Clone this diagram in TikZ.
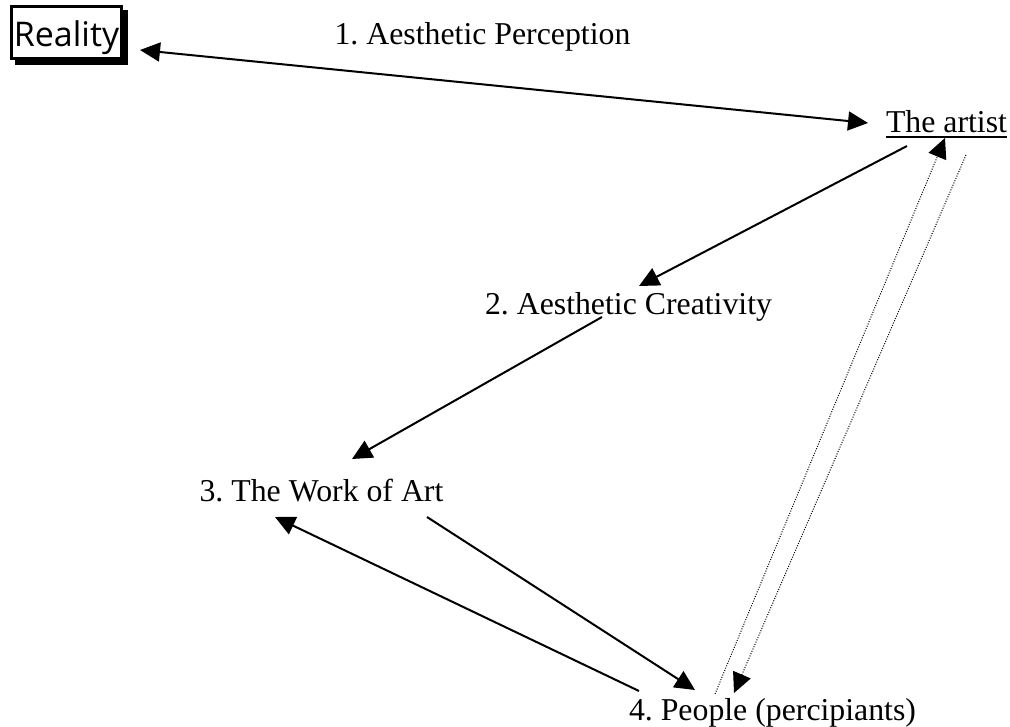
\documentclass[tikz,border=0pt]{standalone}
\usepackage{fontspec}
\setmainfont{Liberation Serif}
\newfontfamily\realityfont{Open Sans}
\usetikzlibrary{arrows.meta,shadows}
\frenchspacing
\begin{document}
\begin{tikzpicture}[x=1pt,y=-1pt,
  lbl/.style={anchor=base,inner sep=0pt,font=\fontsize{31.8}{38}\selectfont},
  conn/.style={line width=2pt,-{Triangle[length=20pt,width=19pt]}},
  dconn/.style={line width=1pt,dash pattern=on 1pt off 1.5pt,-{Triangle[length=20pt,width=19pt]}},
  shadowbox/.style={draw,line width=3pt,fill=white,inner sep=0pt,
    minimum width=110pt,minimum height=52pt,
    general shadow={fill=black,draw=black,line width=3pt,shadow xshift=5pt,shadow yshift=-5pt}}]
\useasboundingbox (0,0) rectangle (1010,727);
% nodes
\node[shadowbox] (reality) at (66.5,32.5) {};
\node[anchor=base,inner sep=0pt,font=\realityfont\fontsize{34}{40}\selectfont] (realitytext) at (66.5,47) {Reality};
\node[lbl] (perc) at (482.5,45) {1. Aesthetic Perception};
\node[lbl] (artist) at (946.5,133) {The artist};
\draw[line width=2.5pt] ([yshift=-4pt]artist.base west) -- ([yshift=-4pt]artist.base east);
\node[lbl] (creat) at (628.5,315) {2. Aesthetic Creativity};
\node[lbl] (work) at (321.5,501) {3. The Work of Art};
\node[lbl] (people) at (772.5,720) {4. People (percipiants)};
% connector ends
\coordinate (r1) at (140,50);
\coordinate (a1) at (868,123);
\coordinate (a2) at (907,146);
\coordinate (c2) at (639,286);
\coordinate (c3) at (602,317);
\coordinate (w3) at (352,459);
\coordinate (w4) at (427,517);
\coordinate (p4) at (695,690);
\coordinate (p5) at (639,691);
\coordinate (w5) at (275,517);
\coordinate (p6) at (715,694);
\coordinate (a6) at (945,138);
\coordinate (a7) at (966,155);
\coordinate (p7) at (734,693);
% connectors
\draw[line width=2pt,{Triangle[length=20pt,width=19pt]}-{Triangle[length=20pt,width=19pt]}] (r1) -- (a1);
\draw[conn] (a2) -- (c2);
\draw[conn] (c3) -- (w3);
\draw[conn] (w4) -- (p4);
\draw[conn] (p5) -- (w5);
\draw[dconn] (p6) -- (a6);
\draw[dconn] (a7) -- (p7);
\end{tikzpicture}
\end{document}
